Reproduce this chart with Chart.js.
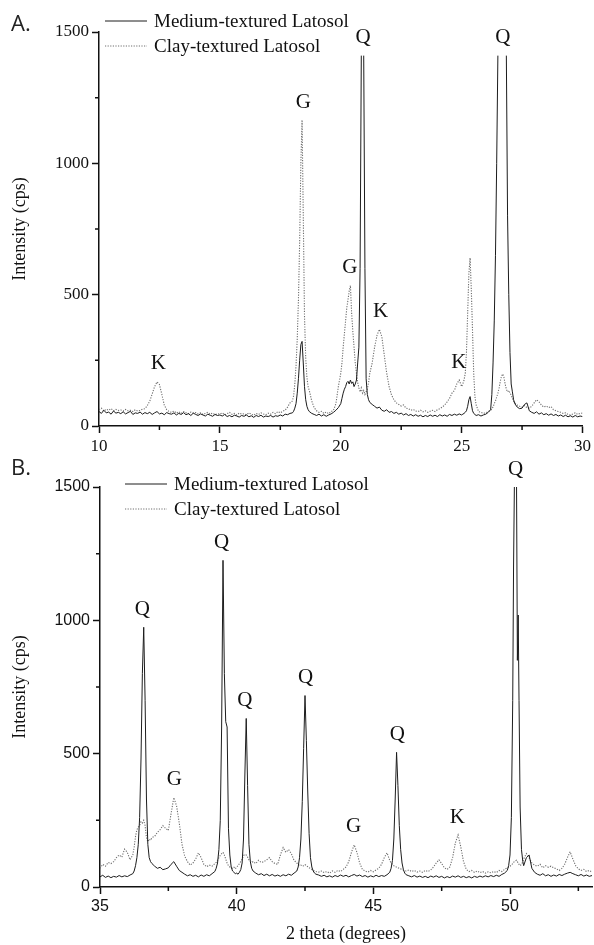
<!DOCTYPE html>
<html>
<head>
<meta charset="utf-8">
<script src="https://cdn.jsdelivr.net/npm/chart.js@4.4.1/dist/chart.umd.min.js"></script>
<style>
  html, body { margin: 0; padding: 0; background: #fff; }
  body { width: 594px; height: 945px; position: relative; overflow: hidden; }
  canvas { position: absolute; left: 0; }
  #chartA { top: 0; }
  #chartB { top: 450px; }
</style>
</head>
<body>
<canvas id="chartA" width="594" height="465"></canvas>
<canvas id="chartB" width="594" height="495"></canvas>
<script>
// ---- panel A: 2 theta 10-30 ----
const thetaA = [
  10.0,10.1,10.2,10.3,10.4,10.5,10.6,10.7,10.8,10.9,
  11.0,11.1,11.2,11.3,11.4,11.5,11.6,11.7,11.8,11.9,
  12.0,12.1,12.2,12.3,12.4,12.5,12.6,12.7,12.8,12.9,
  13.0,13.1,13.2,13.3,13.4,13.5,13.6,13.7,13.8,13.9,
  14.0,14.1,14.2,14.3,14.4,14.5,14.6,14.7,14.8,14.9,
  15.0,15.1,15.2,15.3,15.4,15.5,15.6,15.7,15.8,15.9,
  16.0,16.1,16.2,16.3,16.4,16.5,16.6,16.7,16.8,16.9,
  17.0,17.1,17.2,17.3,17.4,17.5,17.6,17.7,17.8,17.9,
  18.0,18.05,18.1,18.15,18.2,18.25,18.3,18.35,18.4,18.45,18.5,18.55,18.6,18.65,
  18.7,18.8,18.9,19.0,19.1,19.2,19.3,19.4,19.5,19.6,19.7,19.8,19.9,
  20.0,20.05,20.1,20.15,20.2,20.25,20.3,20.35,20.4,20.45,20.5,20.55,20.6,20.65,
  20.7,20.75,20.8,20.85,20.9,20.95,21.0,21.05,21.1,21.15,21.2,
  21.3,21.4,21.5,21.6,21.7,21.8,21.9,
  22.0,22.1,22.2,22.3,22.4,22.5,22.6,22.7,22.8,22.9,
  23.0,23.1,23.2,23.3,23.4,23.5,23.6,23.7,23.8,23.9,
  24.0,24.1,24.2,24.3,24.4,24.5,24.6,24.7,24.8,24.9,
  25.0,25.05,25.1,25.15,25.2,25.25,25.3,25.35,25.4,25.45,25.5,25.55,25.6,
  25.7,25.8,25.9,26.0,26.1,26.2,
  26.25,26.3,26.35,26.4,26.45,26.5,26.55,26.6,26.65,26.7,
  26.75,26.8,26.85,26.9,26.95,27.0,27.05,27.1,27.15,27.2,
  27.3,27.4,27.5,27.6,27.7,27.8,27.9,
  28.0,28.1,28.2,28.3,28.4,28.5,28.6,28.7,28.8,28.9,
  29.0,29.1,29.2,29.3,29.4,29.5,29.6,29.7,29.8,29.9,
  30.0
];
// null = top of a peak that is hidden in the original figure
const mediumA = [
  55,48,60,50,53,45,57,49,52,47,
  54,46,51,56,44,50,48,53,45,51,
  47,52,44,50,55,46,49,43,51,47,
  45,50,42,48,44,51,43,47,40,49,
  44,40,46,42,38,45,41,37,44,40,
  42,38,44,36,40,35,41,38,34,40,
  37,42,35,39,33,40,36,41,34,38,
  36,40,34,39,37,42,38,45,43,48,
  50,56,68,85,125,180,250,310,322,240,150,100,75,62,
  55,48,44,40,45,38,43,37,42,46,52,60,70,
  85,105,125,140,150,165,170,160,175,162,168,150,160,175,
  240,300,600,1410,null,1410,600,180,120,100,90,
  82,75,68,72,60,56,62,
  52,55,48,52,45,49,42,47,40,44,
  38,43,37,41,35,40,36,42,37,41,
  36,43,38,42,37,44,40,45,41,46,
  42,45,48,52,58,75,100,112,85,58,48,44,40,
  43,38,42,45,52,62,
  120,240,400,650,1000,1410,null,null,null,null,
  null,null,1410,800,500,280,160,130,100,85,
  72,66,68,82,88,58,52,
  48,54,45,50,43,47,41,46,40,44,
  38,42,36,41,35,39,34,40,35,38,
  36
];
const clayA = [
  62,68,57,64,60,66,58,63,59,61,
  57,63,58,60,55,62,57,59,64,66,
  78,95,122,150,168,158,120,80,62,55,
  52,57,49,54,48,55,50,47,53,49,
  51,46,50,44,48,52,45,49,43,47,
  45,50,43,47,52,44,48,42,49,45,
  47,43,50,45,41,48,44,50,46,43,
  49,45,52,47,55,50,56,60,72,88,
  95,115,160,230,330,480,700,1000,1165,800,420,260,185,150,
  135,95,70,58,52,56,48,53,47,55,60,85,150,
  200,240,300,350,400,450,480,515,535,430,360,300,240,200,
  165,145,130,145,125,135,120,130,140,165,200,
  240,300,345,368,340,270,202,
  150,118,100,88,82,76,80,68,66,60,
  63,57,55,60,54,58,52,56,60,55,
  62,66,72,80,92,105,125,135,160,175,
  150,160,175,200,280,430,580,640,520,365,200,112,80,
  55,52,48,50,55,60,
  65,72,85,95,110,125,145,170,190,198,
  185,160,140,130,135,125,118,105,95,88,
  80,75,72,78,70,68,75,
  88,100,92,80,72,76,70,74,62,58,
  55,52,48,50,44,42,46,50,44,48,
  49
];
const xLabelsA = [10, 15, 20, 25, 30];
const peaksA = [['K', 12.45], ['G', 18.45], ['G', 20.38], ['Q', 20.92], ['K', 21.65], ['K', 24.88], ['Q', 26.7]];

// ---- panel B: 2 theta 35-53 ----
const thetaB = [
  35.0,35.1,35.2,35.3,35.4,35.5,35.6,35.7,35.8,35.9,36.0,36.1,36.2,
  36.25,36.3,36.35,36.4,36.45,36.5,36.55,36.6,36.65,36.7,36.75,36.8,36.85,36.9,
  37.0,37.1,37.2,37.3,37.4,37.5,37.6,37.7,37.8,37.9,
  38.0,38.1,38.2,38.3,38.4,38.5,38.6,38.7,38.8,38.9,
  39.0,39.1,39.2,
  39.25,39.3,39.35,39.4,39.45,39.5,39.55,39.6,39.65,39.7,
  39.75,39.8,39.85,39.9,39.95,40.0,40.05,40.1,40.15,40.2,
  40.25,40.3,40.35,40.4,40.45,40.5,40.55,40.6,
  40.7,40.8,40.9,41.0,41.1,41.2,41.3,41.4,41.5,41.6,41.7,41.8,41.9,42.0,42.1,42.2,
  42.25,42.3,42.35,42.4,42.45,42.5,42.55,42.6,42.65,42.7,42.75,42.8,42.85,42.9,
  43.0,43.1,43.2,43.3,43.4,43.5,43.6,43.7,43.8,43.9,
  44.0,44.1,44.2,44.3,44.4,44.5,44.6,44.7,44.8,44.9,
  45.0,45.1,45.2,45.3,45.4,45.5,45.6,
  45.65,45.7,45.75,45.8,45.85,45.9,45.95,46.0,46.05,46.1,46.15,46.2,
  46.3,46.4,46.5,46.6,46.7,46.8,46.9,
  47.0,47.1,47.2,47.3,47.4,47.5,47.6,47.7,47.8,47.9,
  48.0,48.1,48.2,48.3,48.4,48.5,48.6,48.7,48.8,48.9,
  49.0,49.1,49.2,49.3,49.4,49.5,49.6,49.7,49.8,49.9,
  49.95,50.0,50.05,50.1,50.13,50.16,50.2,50.24,50.27,50.3,50.33,50.37,50.42,50.47,
  50.5,50.6,50.7,50.8,50.9,
  51.0,51.1,51.2,51.3,51.4,51.5,51.6,51.7,51.8,51.9,
  52.0,52.1,52.2,52.3,52.4,52.5,52.6,52.7,52.8,52.9,
  53.0
];
const mediumB = [
  38,44,36,41,35,40,37,43,38,42,39,45,50,
  60,80,110,160,260,480,800,974,700,330,160,110,95,88,
  78,70,74,65,68,72,85,95,78,62,
  55,48,42,46,40,44,38,45,40,46,
  42,50,58,
  70,90,140,250,600,1225,800,620,600,220,
  120,75,60,55,50,52,48,55,65,90,
  180,420,632,380,160,95,70,60,
  52,46,50,43,48,42,47,41,45,40,46,42,48,44,52,60,
  75,110,180,320,520,718,550,360,200,110,75,60,52,48,
  45,40,44,38,42,37,43,39,45,40,
  44,38,43,47,41,45,39,43,37,42,
  38,44,39,43,40,46,55,
  70,100,180,330,505,380,230,140,90,65,52,46,
  42,38,43,37,41,36,40,
  35,41,37,42,36,40,34,39,35,41,
  37,42,36,40,35,39,34,40,36,41,
  37,42,38,43,39,44,40,47,52,62,
  80,120,260,700,1200,1500,null,1500,850,1020,700,300,140,95,
  80,110,120,70,55,
  48,44,50,42,46,40,45,41,47,43,
  48,52,55,50,46,42,47,41,45,40,
  43
];
const clayB = [
  70,85,78,92,88,95,110,120,112,142,130,102,120,
  150,190,215,225,230,245,240,250,230,185,170,180,175,185,
  190,205,215,230,220,212,275,335,305,240,
  160,115,95,82,90,105,128,110,85,76,
  82,78,88,
  92,100,110,118,125,130,120,105,90,80,
  75,72,70,74,68,75,80,88,95,105,
  118,122,120,112,102,98,92,95,
  88,100,92,95,102,110,95,88,85,120,148,130,140,125,100,90,
  85,80,82,78,80,84,80,76,72,70,66,62,60,58,
  56,60,54,58,52,60,55,62,58,66,
  75,95,130,158,130,90,66,60,56,62,
  57,64,70,85,110,128,100,
  90,85,80,78,74,72,70,68,66,64,62,60,
  64,58,62,56,60,55,62,
  58,64,75,90,102,88,72,66,75,110,
  165,195,150,95,66,58,62,55,60,54,
  58,52,57,53,58,54,62,58,66,72,
  75,78,82,88,92,95,98,100,95,90,85,80,85,95,
  105,125,110,90,82,
  78,85,72,80,74,78,72,68,62,70,
  85,110,132,105,80,68,62,66,58,62,
  56
];
const xLabelsB = [35, 40, 45, 50];
const peaksB = [['Q', 36.55], ['G', 37.72], ['Q', 39.45], ['Q', 40.3], ['Q', 42.52], ['G', 44.28], ['Q', 45.88], ['K', 48.07], ['Q', 50.2]];

const yLabels = [0, 500, 1000, 1500];
const seriesNames = ['Medium-textured Latosol', 'Clay-textured Latosol'];

[[thetaA, mediumA, clayA], [thetaB, mediumB, clayB]].forEach(([t, m, c]) => {
  if (m.length !== t.length || c.length !== t.length) throw new Error(`length mismatch ${t.length} ${m.length} ${c.length}`);
});

const SERIF = '"Liberation Serif", "Times New Roman", serif';
const SANS = '"Liberation Sans", Arial, sans-serif';
const INK = '#111';

Chart.defaults.font.family = SERIF;
Chart.defaults.color = INK;

const points = (theta, values) => theta.map((x, i) => ({ x, y: values[i] }));

// minor ticks, peak letters, legend and panel tag
const decor = {
  id: 'decor',
  afterDraw(chart, args, opts) {
    const { ctx, chartArea: area, scales: { x, y } } = chart;
    ctx.save();
    ctx.strokeStyle = INK;
    ctx.lineWidth = 1.5;
    ctx.beginPath();
    x.ticks.forEach((t) => {
      if (opts.xLabels.includes(t.value)) return;
      const px = x.getPixelForValue(t.value);
      ctx.moveTo(px, area.bottom); ctx.lineTo(px, area.bottom + 4);
    });
    y.ticks.forEach((t) => {
      if (yLabels.includes(t.value)) return;
      const py = y.getPixelForValue(t.value);
      ctx.moveTo(area.left, py); ctx.lineTo(area.left - 4, py);
    });
    ctx.stroke();

    ctx.fillStyle = INK;
    ctx.textAlign = 'center';
    ctx.textBaseline = 'middle';
    ctx.font = `21px ${SERIF}`;
    opts.peaks.forEach(([letter, pos]) => {
      let top = 0;
      chart.data.datasets.forEach((ds) => ds.data.forEach((p) => {
        if (p.y != null && Math.abs(p.x - pos) <= 0.2) top = Math.max(top, p.y);
      }));
      ctx.fillText(letter, x.getPixelForValue(pos), y.getPixelForValue(top) - 18);
    });

    ctx.textAlign = 'left';
    ctx.font = `19px ${SERIF}`;
    chart.data.datasets.forEach((ds, i) => {
      const lx = area.left + opts.legend.left;
      const ly = area.top + opts.legend.top + i * 25;
      ctx.strokeStyle = ds.borderColor;
      ctx.lineWidth = 1;
      ctx.setLineDash(ds.borderDash || []);
      ctx.beginPath(); ctx.moveTo(lx, ly); ctx.lineTo(lx + 42, ly); ctx.stroke();
      ctx.setLineDash([]);
      ctx.fillText(ds.label, lx + 49, ly + 1);
    });

    ctx.textBaseline = 'alphabetic';
    ctx.font = `22px "Open Sans", sans-serif`;
    ctx.fillStyle = '#222';
    ctx.fillText(opts.tag, 11, opts.tagY);
    ctx.restore();
  },
};

function makePanel(id, p) {
  return new Chart(document.getElementById(id), {
    type: 'line',
    data: {
      datasets: [
        { label: seriesNames[0], data: points(p.theta, p.medium), borderColor: '#1c1c1c', borderWidth: 1 },
        { label: seriesNames[1], data: points(p.theta, p.clay), borderColor: '#6e6e6e', borderWidth: 1.1, borderDash: [1.2, 1.4] },
      ],
    },
    options: {
      responsive: false,
      animation: false,
      parsing: false,
      spanGaps: false,
      elements: { point: { radius: 0 }, line: { tension: 0 } },
      layout: { padding: { top: p.top, right: p.right, left: 0, bottom: 0 } },
      plugins: {
        legend: { display: false },
        tooltip: { enabled: false },
        decor: { xLabels: p.xLabels, peaks: p.peaks, legend: p.legend, tag: p.tag, tagY: p.tagY },
      },
      scales: {
        x: {
          type: 'linear',
          min: p.xMin, max: p.xMax,
          afterFit: (s) => { s.height = p.xHeight; },
          border: { color: INK, width: 1.5 },
          grid: {
            drawOnChartArea: false, tickLength: 7, tickWidth: 1.5,
            tickColor: (c) => (c.tick && p.xLabels.includes(c.tick.value) ? INK : 'transparent'),
          },
          ticks: {
            stepSize: 2.5, includeBounds: false, autoSkip: false, maxRotation: 0, padding: 3,
            font: { family: p.tickFont, size: p.tickSize }, color: INK,
            callback: (v) => (p.xLabels.includes(v) ? String(v) : ''),
          },
          title: p.xTitle
            ? { display: true, text: p.xTitle, font: { family: SERIF, size: 18 }, color: INK, padding: { top: 0, bottom: 0 } }
            : { display: false },
        },
        y: {
          min: 0, max: 1500,
          afterFit: (s) => { s.width = p.yWidth; },
          border: { color: INK, width: 1.5 },
          grid: {
            drawOnChartArea: false, tickLength: 7, tickWidth: 1.5,
            tickColor: (c) => (c.tick && yLabels.includes(c.tick.value) ? INK : 'transparent'),
          },
          ticks: {
            stepSize: 250, autoSkip: false, padding: 3,
            font: { family: p.tickFont, size: p.tickSize }, color: INK,
            callback: (v) => (yLabels.includes(v) ? String(v) : ''),
          },
          title: { display: true, text: 'Intensity (cps)', font: { family: SERIF, size: 18 }, color: INK, padding: { top: 9, bottom: 0 } },
        },
      },
    },
    plugins: [decor],
  });
}

makePanel('chartA', {
  theta: thetaA, medium: mediumA, clay: clayA, xLabels: xLabelsA, peaks: peaksA,
  xMin: 10, xMax: 30, top: 32, right: 10, yWidth: 99, xHeight: 39,
  tickFont: SERIF, tickSize: 17, xTitle: null,
  legend: { left: 6, top: -11 }, tag: 'A.', tagY: 31,
});

makePanel('chartB', {
  theta: thetaB, medium: mediumB, clay: clayB, xLabels: xLabelsB, peaks: peaksB,
  xMin: 35, xMax: 53, top: 37, right: 2, yWidth: 100, xHeight: 58,
  tickFont: SANS, tickSize: 16, xTitle: '2 theta (degrees)',
  legend: { left: 25, top: -3 }, tag: 'B.', tagY: 25,
});
</script>
</body>
</html>
